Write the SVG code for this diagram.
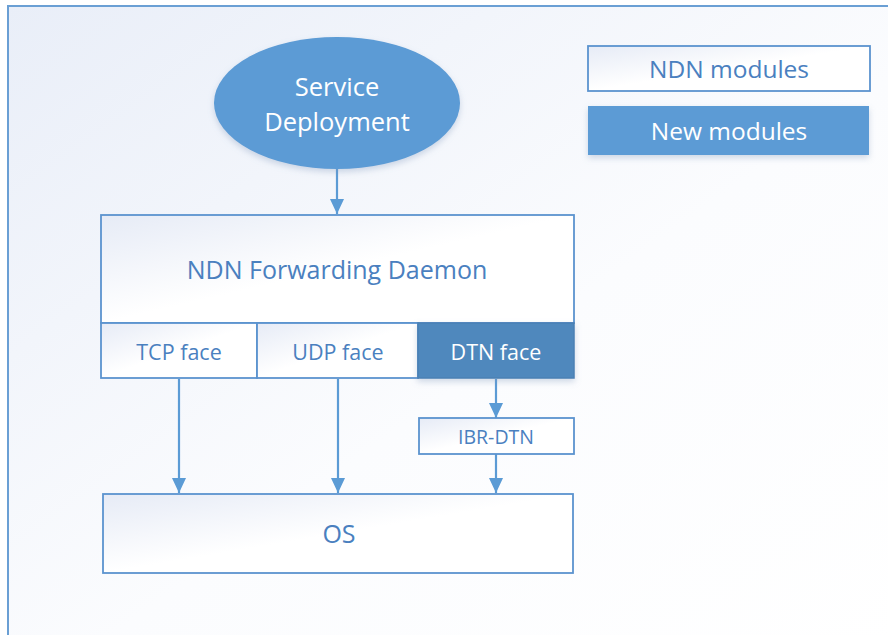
<svg xmlns="http://www.w3.org/2000/svg" width="888" height="635" viewBox="0 0 888 635">
<defs>
<linearGradient id="bg" x1="0" y1="0" x2="1" y2="1">
<stop offset="0" stop-color="#e9eef8"/>
<stop offset="0.55" stop-color="#fbfcfe"/>
<stop offset="1" stop-color="#ffffff"/>
</linearGradient>
<linearGradient id="box" x1="0" y1="0" x2="1" y2="1">
<stop offset="0" stop-color="#e6ebf6"/>
<stop offset="0.5" stop-color="#ffffff"/>
<stop offset="1" stop-color="#ffffff"/>
</linearGradient>
<filter id="sh" x="-10%" y="-10%" width="120%" height="140%">
<feDropShadow dx="0" dy="3" stdDeviation="3" flood-color="#7a93b8" flood-opacity="0.35"/>
</filter>
<marker id="ah" markerWidth="15" markerHeight="14" refX="15" refY="7" orient="auto" markerUnits="userSpaceOnUse">
<path d="M0,0 L15,7 L0,14 z" fill="#5b9bd5"/>
</marker>
<style>
.frame{fill:url(#bg);stroke:#6a9fd4;stroke-width:2}
.box{fill:url(#box);stroke:#5b93cf;stroke-width:1.8}
.t{font-family:"Open Sans","Noto Sans","DejaVu Sans",sans-serif;fill:#4a80bf;text-anchor:middle;dominant-baseline:central}
.w{fill:#ffffff}
.c{stroke:#5b9bd5;stroke-width:2.2;fill:none;marker-end:url(#ah)}
</style>
</defs>
<rect class="frame" x="8" y="6" width="890" height="640"/>
<g id="connectors">
<line class="c" x1="337" y1="169" x2="337" y2="214"/>
<line class="c" x1="179" y1="379" x2="179" y2="493"/>
<line class="c" x1="338" y1="379" x2="338" y2="493"/>
<line class="c" x1="496" y1="379" x2="496" y2="418"/>
<line class="c" x1="496" y1="454" x2="496" y2="493"/>
</g>
<g id="service">
<ellipse cx="337" cy="103" rx="123" ry="66" fill="#5b9bd5" filter="url(#sh)"/>
<text class="t w" x="337" y="86" font-size="25.5">Service</text>
<text class="t w" x="337" y="121" font-size="25.5">Deployment</text>
</g>
<g id="daemon">
<rect class="box" x="101" y="215" width="473" height="108"/>
<text class="t" x="337" y="269" font-size="25">NDN Forwarding Daemon</text>
</g>
<g id="tcp">
<rect class="box" x="101" y="323" width="156" height="55"/>
<text class="t" x="179" y="351" font-size="21.5">TCP face</text>
</g>
<g id="udp">
<rect class="box" x="257" y="323" width="161" height="55"/>
<text class="t" x="338" y="351" font-size="21.5">UDP face</text>
</g>
<g id="dtn">
<rect x="418" y="323" width="156" height="55" fill="#4f88bd" stroke="#4a80b5" stroke-width="1.5" filter="url(#sh)"/>
<text class="t w" x="496" y="351" font-size="21.5">DTN face</text>
</g>
<g id="ibr">
<rect class="box" x="419" y="418" width="155" height="36"/>
<text class="t" x="496" y="436" font-size="19.5">IBR-DTN</text>
</g>
<g id="os">
<rect class="box" x="103" y="494" width="470" height="79"/>
<text class="t" x="339" y="533" font-size="25">OS</text>
</g>
<g id="legend-ndn">
<rect class="box" x="588" y="46" width="282" height="45"/>
<text class="t" x="729" y="68" font-size="24.5">NDN modules</text>
</g>
<g id="legend-new">
<rect x="588" y="106" width="281" height="49" fill="#5b9bd5" filter="url(#sh)"/>
<text class="t w" x="729" y="130" font-size="24.5">New modules</text>
</g>
</svg>
